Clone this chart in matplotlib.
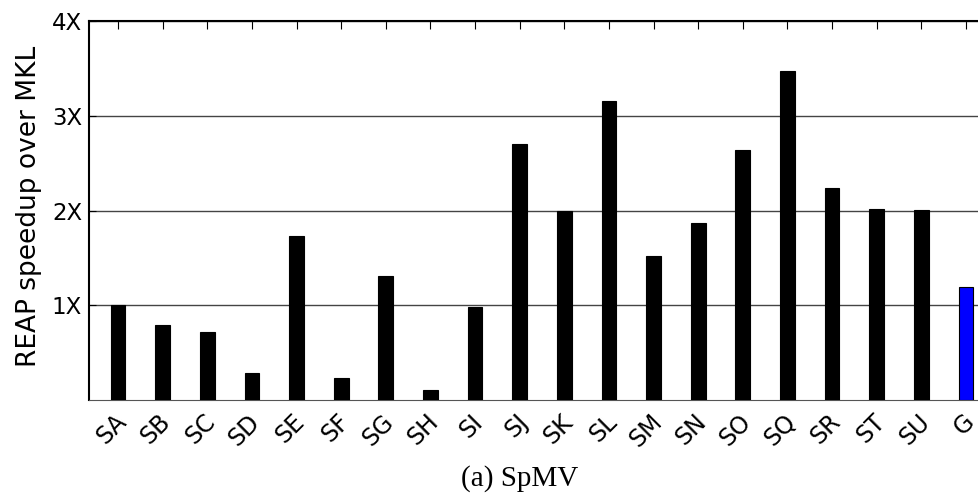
import numpy as np
import matplotlib
matplotlib.use("Agg")
from matplotlib import pyplot as plt
from matplotlib.transforms import ScaledTranslation

labels = ["SA", "SB", "SC", "SD", "SE", "SF", "SG", "SH", "SI", "SJ",
          "SK", "SL", "SM", "SN", "SO", "SQ", "SR", "ST", "SU", "G"]
speedup = [1.00, 0.79, 0.72, 0.29, 1.73, 0.23, 1.31, 0.11, 0.98, 2.70,
           1.99, 3.16, 1.52, 1.87, 2.64, 3.47, 2.24, 2.02, 2.01, 1.19]
yticks = [1, 2, 3, 4]
ytick_labels = ["1X", "2X", "3X", "4X"]

colors = ["black"] * (len(labels) - 1) + ["blue"]
x = np.arange(len(labels))

fig = plt.figure(figsize=(9.79, 5.0), dpi=100)
ax = fig.add_axes([89 / 979, 0.2, (995 - 89) / 979, (400 - 21) / 500])

ax.bar(x, speedup, width=0.33, color=colors, edgecolor="black", linewidth=0.8, zorder=3)

ax.set_xlim(-0.65, len(labels) - 1 + 0.65)
ax.set_ylim(0, 4)
ax.set_yticks(yticks)
ax.set_yticklabels(ytick_labels, fontsize=16.5)
ax.set_xticks(x)
ax.set_xticklabels(labels, rotation=45, fontsize=17, ha="right", va="center",
                   rotation_mode="anchor")
ax.tick_params(axis="x", direction="in", top=True, bottom=False, length=6, pad=13)
ax.tick_params(axis="y", direction="in", length=5, pad=5)
ax.yaxis.grid(True, color="#444444", linewidth=1, zorder=0)
ax.set_axisbelow(True)

# nudge the rotated labels a little to the right
shift = ScaledTranslation(0.045, 0, fig.dpi_scale_trans)
for lab in ax.get_xticklabels():
    lab.set_transform(lab.get_transform() + shift)

for side in ["left", "top"]:
    ax.spines[side].set_linewidth(1.5)
ax.spines["bottom"].set_color("#555555")

ax.set_ylabel("REAP speedup over MKL", fontsize=19)
ax.yaxis.set_label_coords(-0.052, 0.51)

fig.text(520 / 979, 1 - 479 / 500, "(a) SpMV", ha="center", va="center",
         fontsize=21, family="Liberation Serif")

fig.savefig("out.png", dpi=100)
